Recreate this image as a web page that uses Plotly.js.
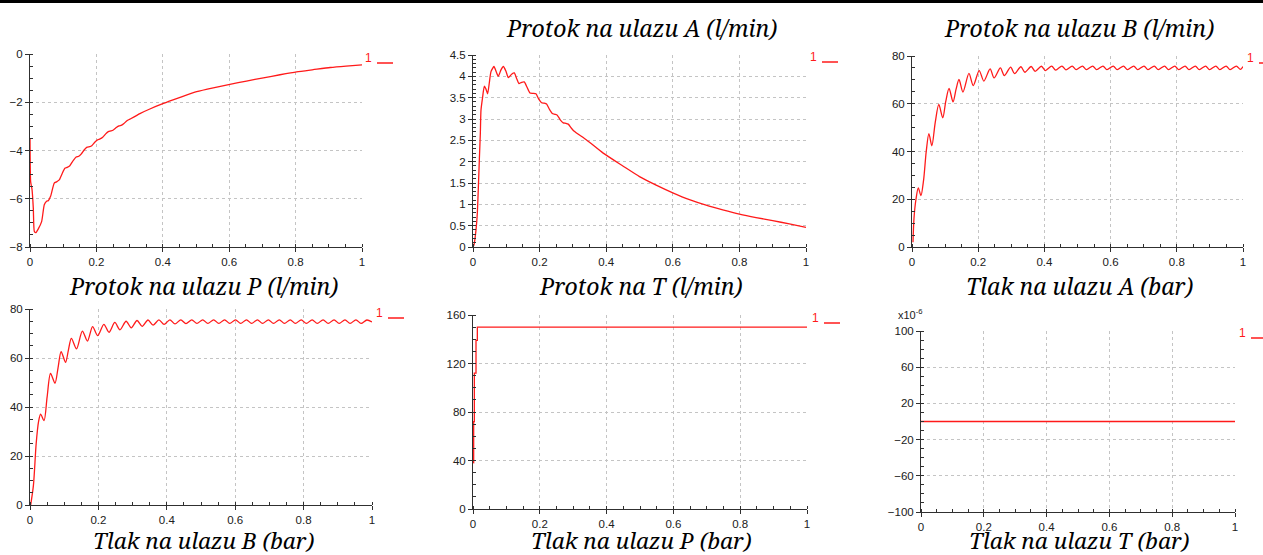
<!DOCTYPE html>
<html>
<head>
<meta charset="utf-8">
<script src="https://cdn.plot.ly/plotly-3.0.1.min.js"></script>
<style>html,body{margin:0;padding:0;background:#fff;}#chart{width:1263px;height:555px;}</style>
</head>
<body>
<div id="chart"></div>
<script>
// ---------- DATA ----------
const t1 = [0, 0.002, 0.006, 0.010, 0.013, 0.018, 0.025, 0.035, 0.043, 0.050, 0.055, 0.062, 0.073, 0.080, 0.088, 0.097, 0.105, 0.112, 0.120, 0.130, 0.139, 0.147, 0.154, 0.163, 0.172, 0.180, 0.186, 0.195, 0.203, 0.211, 0.219, 0.228, 0.236, 0.244, 0.251, 0.260, 0.268, 0.276, 0.283, 0.292, 0.301, 0.331, 0.361, 0.402, 0.452, 0.502, 0.552, 0.602, 0.652, 0.703, 0.753, 0.803, 0.853, 0.904, 0.952, 1.0];
const v1 = [-3.5, -5.3, -5.6, -6.4, -7.35, -7.4, -7.25, -6.95, -6.25, -6.1, -6.08, -5.9, -5.35, -5.3, -5.22, -4.95, -4.74, -4.70, -4.63, -4.42, -4.27, -4.24, -4.15, -3.98, -3.86, -3.84, -3.80, -3.66, -3.56, -3.52, -3.45, -3.31, -3.22, -3.19, -3.15, -3.05, -2.98, -2.95, -2.88, -2.77, -2.70, -2.47, -2.28, -2.05, -1.80, -1.56, -1.40, -1.26, -1.12, -0.99, -0.86, -0.74, -0.65, -0.56, -0.50, -0.45];
const t2 = [0, 0.003, 0.009, 0.013, 0.016, 0.019, 0.022, 0.024, 0.029, 0.034, 0.039, 0.044, 0.049, 0.054, 0.063, 0.070, 0.076, 0.084, 0.091, 0.099, 0.106, 0.116, 0.124, 0.131, 0.138, 0.146, 0.154, 0.162, 0.171, 0.180, 0.189, 0.197, 0.206, 0.214, 0.221, 0.230, 0.238, 0.246, 0.253, 0.262, 0.271, 0.279, 0.286, 0.295, 0.303, 0.341, 0.391, 0.45, 0.5, 0.55, 0.6, 0.65, 0.7, 0.75, 0.8, 0.85, 0.9, 0.95, 1.0];
const v2 = [0, 0.05, 0.4, 0.79, 1.38, 2.04, 2.66, 3.21, 3.52, 3.77, 3.70, 3.59, 3.85, 4.11, 4.23, 4.10, 4.0, 4.15, 4.23, 4.12, 3.97, 4.05, 4.08, 3.95, 3.83, 3.86, 3.87, 3.75, 3.61, 3.60, 3.59, 3.47, 3.38, 3.37, 3.35, 3.22, 3.13, 3.11, 3.09, 2.98, 2.91, 2.90, 2.88, 2.79, 2.72, 2.51, 2.20, 1.90, 1.65, 1.45, 1.27, 1.11, 0.98, 0.87, 0.77, 0.69, 0.62, 0.54, 0.46];
const t3 = [0.003, 0.006, 0.012, 0.019, 0.027, 0.035, 0.043, 0.051, 0.060, 0.070, 0.081, 0.093, 0.102, 0.112, 0.124, 0.133, 0.142, 0.154, 0.172, 0.185, 0.203, 0.217, 0.236, 0.248, 0.267, 0.279, 0.298, 0.310, 0.329, 0.341, 0.360, 0.372, 0.391, 0.403, 0.422, 0.434, 0.453, 0.465, 0.484, 0.496, 0.515, 0.527, 0.546, 0.558, 0.577, 0.589, 0.608, 0.620, 0.639, 0.651, 0.670, 0.682, 0.701, 0.713, 0.732, 0.744, 0.763, 0.775, 0.794, 0.806, 0.825, 0.837, 0.856, 0.868, 0.887, 0.899, 0.918, 0.930, 0.949, 0.961, 0.980, 0.992, 1.0];
const v3 = [2, 12, 20, 24.8, 21.5, 28, 40, 47.5, 42.4, 52, 59.7, 54.1, 61, 66.4, 60.8, 66, 70.2, 64.9, 72.7, 67.6, 73.9, 69.5, 74.6, 70.8, 75.0, 71.8, 75.3, 72.6, 75.5, 73.2, 75.6, 73.6, 75.7, 73.9, 75.8, 74.1, 75.8, 74.2, 75.8, 74.3, 75.8, 74.3, 75.8, 74.3, 75.8, 74.3, 75.8, 74.3, 75.8, 74.3, 75.8, 74.3, 75.8, 74.3, 75.8, 74.3, 75.8, 74.3, 75.8, 74.3, 75.8, 74.3, 75.8, 74.3, 75.8, 74.3, 75.8, 74.3, 75.8, 74.3, 75.8, 74.4, 75.6];
const t4 = [0.002, 0.010, 0.018, 0.025, 0.031, 0.041, 0.050, 0.060, 0.073, 0.082, 0.091, 0.104, 0.112, 0.121, 0.136, 0.153, 0.168, 0.183, 0.198, 0.216, 0.231, 0.248, 0.263, 0.281, 0.296, 0.313, 0.328, 0.345, 0.360, 0.377, 0.392, 0.409, 0.424, 0.441, 0.456, 0.473, 0.488, 0.505, 0.520, 0.537, 0.552, 0.569, 0.584, 0.601, 0.616, 0.633, 0.648, 0.665, 0.680, 0.697, 0.712, 0.729, 0.744, 0.761, 0.776, 0.793, 0.808, 0.825, 0.840, 0.857, 0.872, 0.889, 0.904, 0.921, 0.936, 0.953, 0.968, 0.985, 1.0];
const v4 = [0, 8, 25, 34, 37.1, 34.4, 44, 53.7, 49.7, 56, 62.6, 58.2, 63, 68.0, 63.7, 71.0, 66.9, 72.8, 69.1, 73.7, 70.5, 74.5, 71.5, 75.0, 72.3, 75.3, 72.9, 75.5, 73.4, 75.6, 73.7, 75.6, 73.9, 75.6, 74.0, 75.6, 74.1, 75.6, 74.1, 75.6, 74.1, 75.6, 74.1, 75.6, 74.1, 75.6, 74.1, 75.6, 74.1, 75.6, 74.1, 75.6, 74.1, 75.6, 74.1, 75.6, 74.1, 75.6, 74.1, 75.6, 74.1, 75.6, 74.1, 75.6, 74.1, 75.6, 74.1, 75.5, 74.7];
const t5 = [0.001, 0.002, 0.004, 0.009, 0.013, 1.0];
const v5 = [38, 72, 112, 139, 150, 150];
const t6 = [0, 0.5, 1.0];
const v6 = [0, 0, 0];   // units of 1e-6

const xTickVals = [0, 0.2, 0.4, 0.6, 0.8, 1];
const xTickText = ["0", "0.2", "0.4", "0.6", "0.8", "1"];
const panelTitles = [
  "Protok na ulazu A (l/min)", "Protok na ulazu B (l/min)",
  "Protok na ulazu P (l/min)", "Protok na T (l/min)", "Tlak na ulazu A (bar)",
  "Tlak na ulazu B (bar)", "Tlak na ulazu P (bar)", "Tlak na ulazu T (bar)"
];
const legendLabel = "1";
const multiplierText = "x10<sup>-6</sup>";

// ---------- LAYOUT ----------
const W = 1263, H = 555;
const px = x => x / W;
const py = y => 1 - y / H;

const boxes = [
  {x0: 30,  x1: 362,  y0: 54,  y1: 247, range: [-8, 0],     tick0: -8, dtick: 2,   minor: 0.5, leg: [368, 58]},
  {x0: 473, x1: 806,  y0: 55,  y1: 247, range: [0, 4.5],    tick0: 0,  dtick: 0.5, minor: 0.1, leg: [813, 57]},
  {x0: 912, x1: 1243, y0: 56,  y1: 247, range: [0, 80],     tick0: 0,  dtick: 20,  minor: 5,   leg: [1250, 58]},
  {x0: 30,  x1: 372,  y0: 309, y1: 505, range: [0, 80],     tick0: 0,  dtick: 20,  minor: 5,   leg: [379, 313]},
  {x0: 473, x1: 807,  y0: 315, y1: 509, range: [0, 160],    tick0: 0,  dtick: 40,  minor: 10,  leg: [815, 318]},
  {x0: 921, x1: 1235, y0: 331, y1: 512, range: [-100, 100], tickvals: [-100, -60, -20, 20, 60, 100], minor: 10, leg: [1242, 333]}
];
const series = [[t1, v1], [t2, v2], [t3, v3], [t4, v4], [t5, v5], [t6, v6]];
const shapes = [['spline', 0.5], ['spline', 0.5], ['spline', 0.8], ['spline', 0.8], ['hv', 0], ['linear', 0]];

const red = '#ff1a1a';
const axisColor = '#303030';
const SANS = 'Liberation Sans';
const SERIF = 'Noto Serif';
const tickFont = {family: SANS, size: 11.5, color: '#202020'};

const data = [];
const layout = {
  width: W, height: H,
  margin: {l: 0, r: 0, t: 0, b: 0},
  paper_bgcolor: '#fff', plot_bgcolor: '#fff',
  showlegend: false,
  annotations: [], shapes: []
};

boxes.forEach((b, i) => {
  const n = i + 1;
  const xa = 'xaxis' + (n === 1 ? '' : n), ya = 'yaxis' + (n === 1 ? '' : n);
  const xr = 'x' + (n === 1 ? '' : n), yr = 'y' + (n === 1 ? '' : n);
  const [tx, ty] = series[i];
  const line = {color: red, width: 1.3, shape: shapes[i][0]};
  if (shapes[i][0] === 'spline') line.smoothing = shapes[i][1];
  data.push({
    x: tx, y: ty, xaxis: xr, yaxis: yr, type: 'scatter', mode: 'lines',
    line: line, hoverinfo: 'skip'
  });
  layout[xa] = {
    domain: [px(b.x0), px(b.x1)], anchor: yr, range: [0, 1],
    tickmode: 'array', tickvals: xTickVals, ticktext: xTickText,
    ticks: 'outside', ticklen: 4, tickcolor: axisColor, tickfont: tickFont,
    showline: true, linecolor: axisColor, linewidth: 1,
    showgrid: true, gridcolor: '#c4c4c4', griddash: '3px,3px', gridwidth: 1,
    zeroline: false, fixedrange: true,
    minor: {dtick: 0.05, ticks: 'inside', ticklen: 3, tickcolor: axisColor, showgrid: false}
  };
  const yax = {
    domain: [py(b.y1), py(b.y0)], anchor: xr, range: b.range,
    ticks: 'outside', ticklen: 4, tickcolor: axisColor, tickfont: tickFont,
    showline: true, linecolor: axisColor, linewidth: 1,
    showgrid: true, gridcolor: '#c4c4c4', griddash: '3px,3px', gridwidth: 1,
    zeroline: false, fixedrange: true,
    minor: {dtick: b.minor, ticks: 'inside', ticklen: 3, tickcolor: axisColor, showgrid: false}
  };
  if (b.tickvals) { yax.tickmode = 'array'; yax.tickvals = b.tickvals; yax.minor.tick0 = -100; }
  else { yax.tickmode = 'linear'; yax.tick0 = b.tick0; yax.dtick = b.dtick; yax.minor.tick0 = b.tick0; }
  layout[ya] = yax;

  layout.annotations.push({
    xref: 'paper', yref: 'paper', x: px(b.leg[0]), y: py(b.leg[1]),
    xanchor: 'center', yanchor: 'middle', showarrow: false,
    text: legendLabel, font: {family: SANS, size: 12, color: red}
  });
  layout.shapes.push({
    type: 'line', xref: 'paper', yref: 'paper',
    x0: px(b.leg[0] + 9), x1: px(Math.min(b.leg[0] + 25, W)), y0: py(b.leg[1] + 5), y1: py(b.leg[1] + 5),
    line: {color: red, width: 1.5}
  });
});

const titlePos = [
  [641, 28, 23], [1079, 28, 23],
  [203, 286, 23], [641, 286, 23], [1079, 286, 23],
  [203, 540, 22.5], [641, 540, 22.5], [1079, 540, 22.5]
];
panelTitles.forEach((t, i) => {
  layout.annotations.push({
    xref: 'paper', yref: 'paper', x: px(titlePos[i][0]), y: py(titlePos[i][1]),
    xanchor: 'center', yanchor: 'middle', showarrow: false, borderpad: 0,
    text: '<i>' + t + '</i>',
    font: {family: SERIF, size: titlePos[i][2], color: '#000'}
  });
});

layout.annotations.push({
  xref: 'paper', yref: 'paper', x: px(925), y: py(323),
  xanchor: 'right', yanchor: 'bottom', showarrow: false,
  text: multiplierText, font: {family: SANS, size: 11, color: '#202020'}
});

layout.shapes.push({
  type: 'rect', xref: 'paper', yref: 'paper', x0: 0, x1: 1, y0: py(3), y1: 1,
  fillcolor: '#000', line: {width: 0}
});

Plotly.newPlot('chart', data, layout, {displayModeBar: false, staticPlot: true});
</script>
</body>
</html>
